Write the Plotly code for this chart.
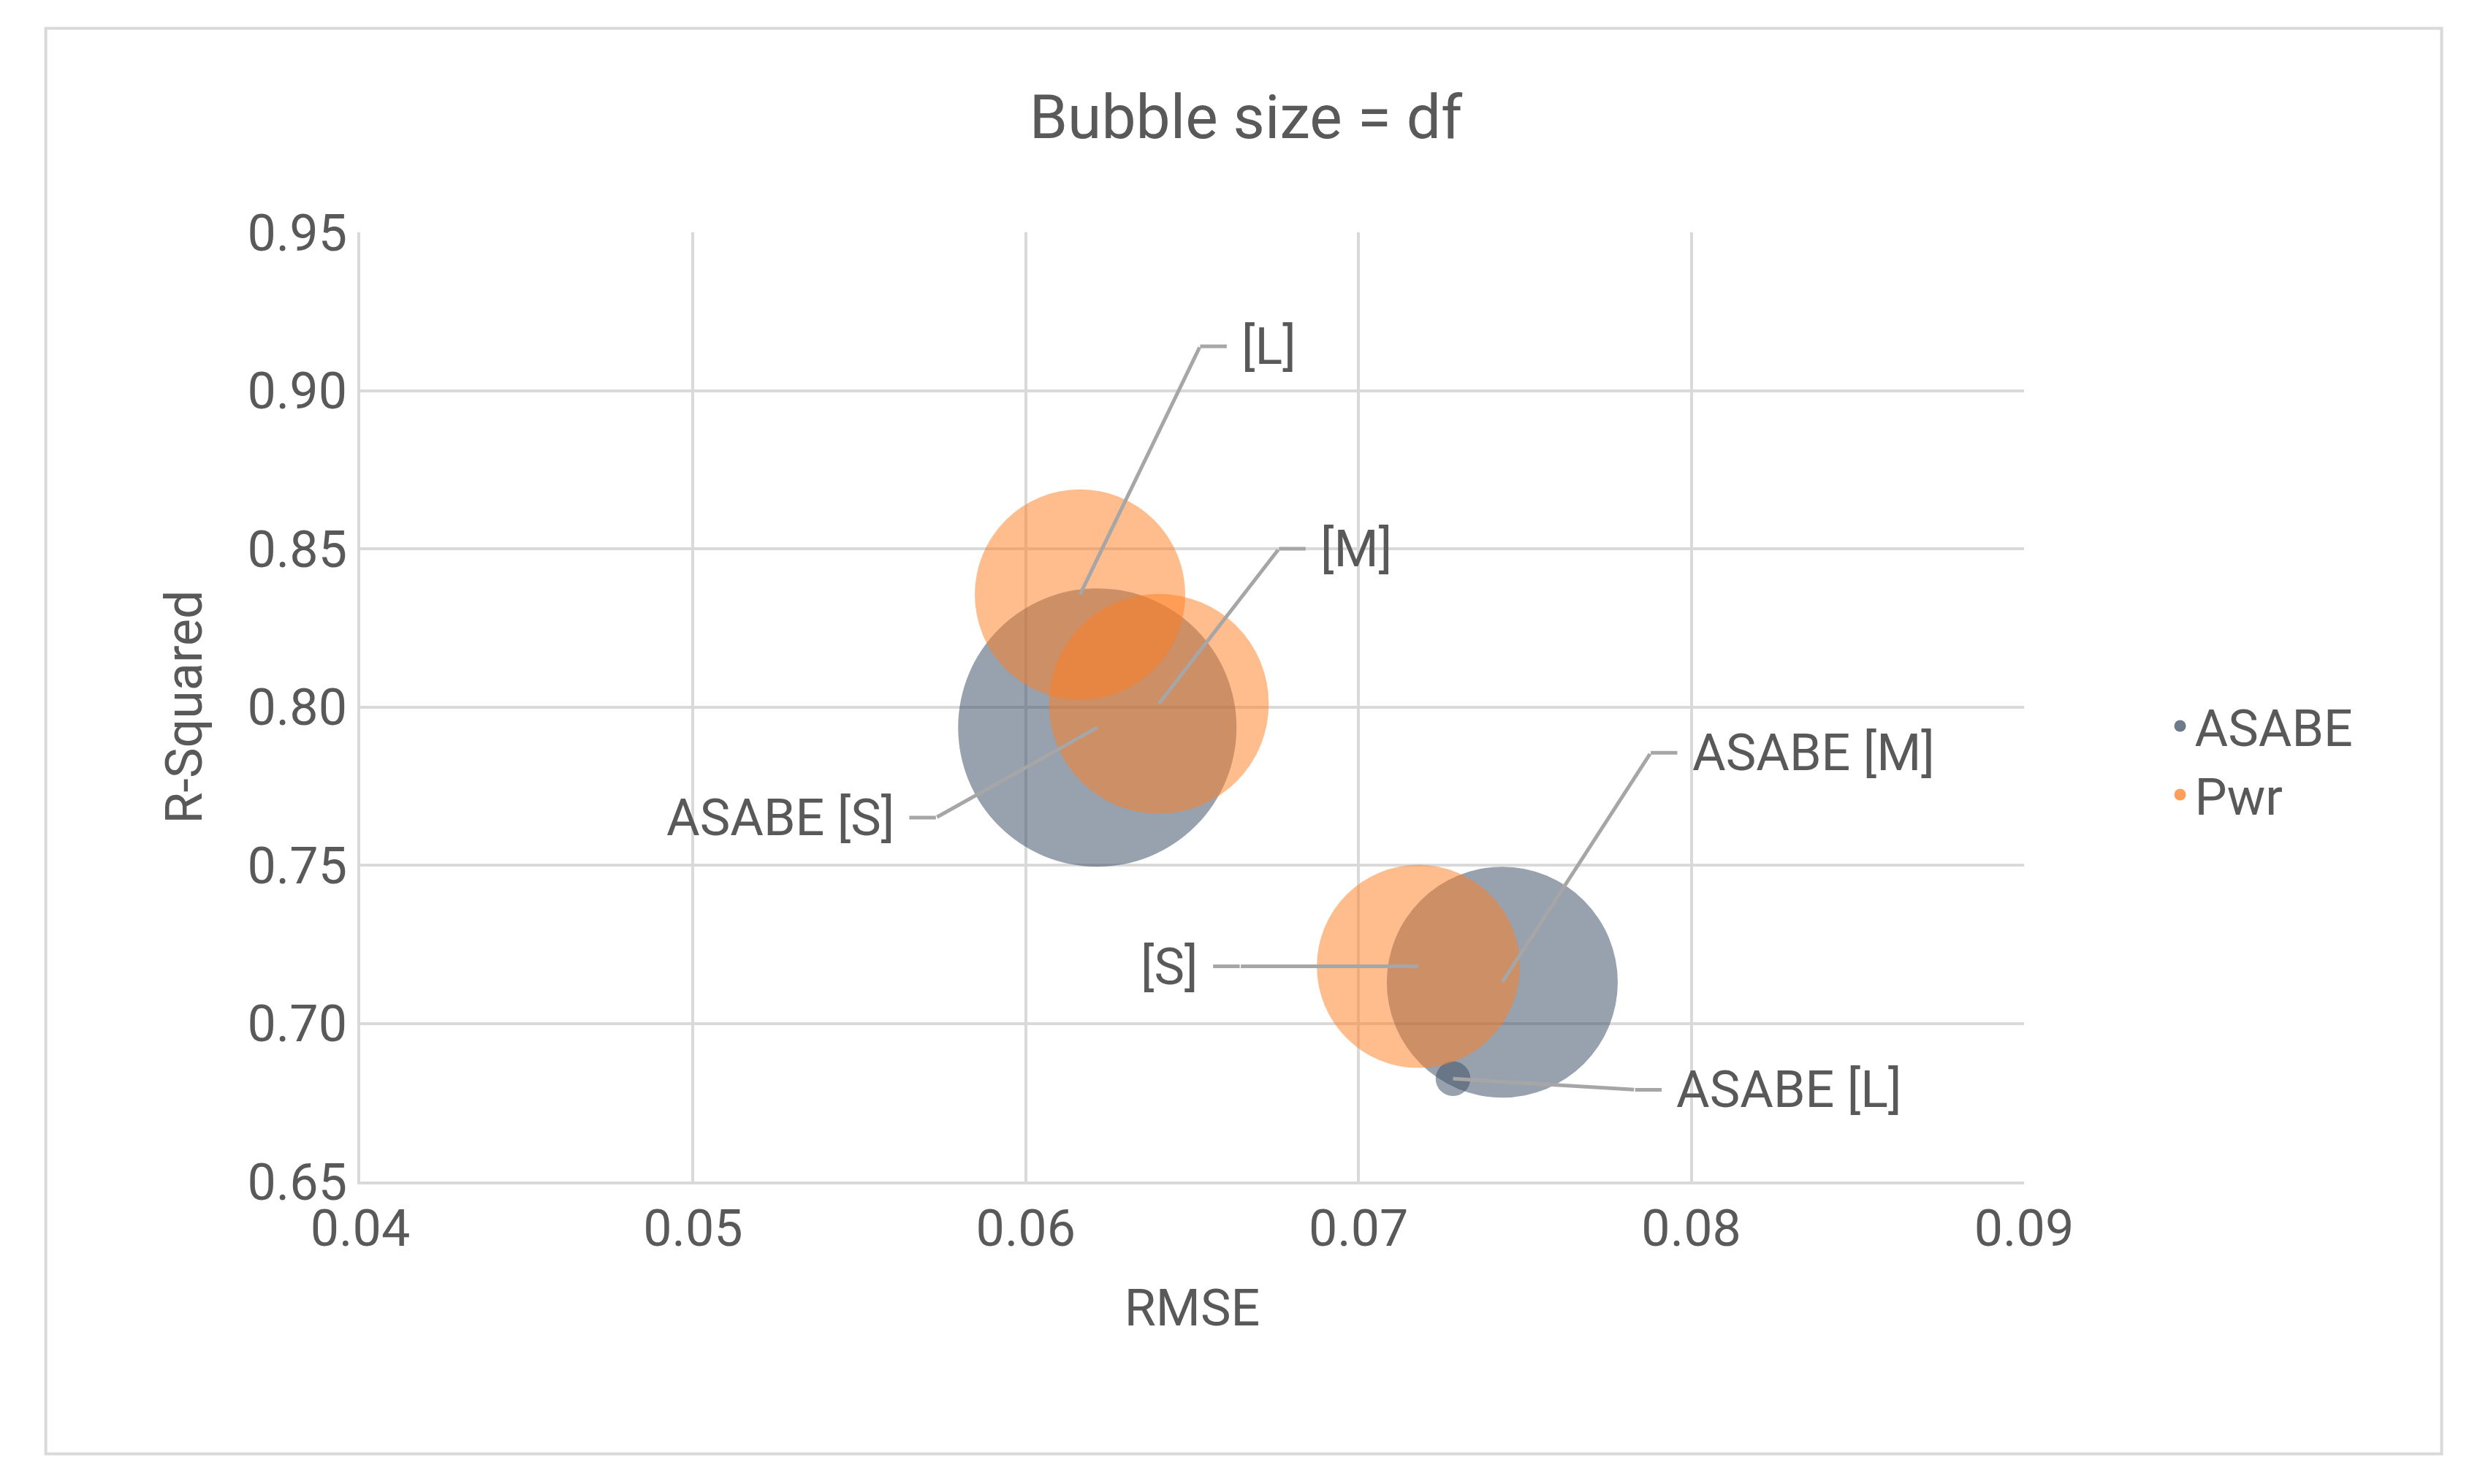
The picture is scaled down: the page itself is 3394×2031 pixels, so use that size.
import plotly.graph_objects as go

labels_asabe = ["ASABE [S]", "ASABE [M]", "ASABE [L]"]
rmse_asabe = [0.06215, 0.07432, 0.07284]
r2_asabe = [0.7935, 0.7130, 0.6825]
df_asabe = [77, 53, 1.2]

labels_pwr = ["[S]", "[M]", "[L]"]
rmse_pwr = [0.0718, 0.0640, 0.06163]
r2_pwr = [0.7180, 0.8010, 0.8355]
df_pwr = [41, 48, 44]

xticks = [0.04, 0.05, 0.06, 0.07, 0.08, 0.09]
yticks = [0.65, 0.70, 0.75, 0.80, 0.85, 0.90, 0.95]

FONT = "Liberation Sans Narrow, Roboto, Arial Narrow, sans-serif"
GRAY = "#595959"
BLUE = "rgba(62,80,104,0.76)"
ORANGE = "rgba(255,125,35,0.74)"
maxdf = max(df_asabe + df_pwr)
sizeref = 2 * maxdf / (381 ** 2)

fig = go.Figure()
fig.add_trace(go.Scatter(x=rmse_asabe, y=r2_asabe, mode="markers", name="ASABE", showlegend=False,
    marker=dict(size=df_asabe, sizemode="area", sizeref=sizeref, sizemin=4,
                color=BLUE, line=dict(width=0))))
fig.add_trace(go.Scatter(x=rmse_pwr, y=r2_pwr, mode="markers", name="Pwr", showlegend=False,
    marker=dict(size=df_pwr, sizemode="area", sizeref=sizeref, sizemin=4,
                color=ORANGE, line=dict(width=0))))
# legend entries
fig.add_trace(go.Scatter(x=[None], y=[None], mode="markers", name="ASABE",
                         marker=dict(size=40, color=BLUE)))
fig.add_trace(go.Scatter(x=[None], y=[None], mode="markers", name="Pwr",
                         marker=dict(size=40, color=ORANGE)))

label_layout = {
    "ASABE [S]": (0.0573, 0.765, 0.05607, 0.7635, "right"),
    "ASABE [M]": (0.07878, 0.7855, 0.08007, 0.7845, "left"),
    "ASABE [L]": (0.07831, 0.679, 0.07907, 0.678, "left"),
    "[S]": (0.06643, 0.718, 0.06595, 0.7175, "right"),
    "[M]": (0.06761, 0.850, 0.06894, 0.849, "left"),
    "[L]": (0.06524, 0.914, 0.06657, 0.9125, "left"),
}
pts = list(zip(labels_asabe, rmse_asabe, r2_asabe)) + list(zip(labels_pwr, rmse_pwr, r2_pwr))
anns = []
for lab, px, py in pts:
    lx, ly, tx, ty, anc = label_layout[lab]
    anns.append(dict(x=px, y=py, ax=lx, ay=ly, axref="x", ayref="y", xref="x", yref="y",
                     text="", showarrow=True, arrowhead=0, arrowwidth=5, arrowcolor="#A6A6A6"))
    hx = lx + (0.0008 if anc == "left" else -0.0008)
    fig.add_shape(type="line", x0=lx, y0=ly, x1=hx, y1=ly, xref="x", yref="y",
                  line=dict(color="#A6A6A6", width=5))
    anns.append(dict(x=hx + (0.0004 if anc == "left" else -0.0004), y=ly, xref="x", yref="y", text=lab,
                     showarrow=False, xanchor=anc, yanchor="middle",
                     font=dict(family=FONT, size=70, color=GRAY)))

fig.add_shape(type="rect", xref="paper", yref="paper", x0=-0.189, x1=1.251, y0=-0.287, y1=1.215,
              line=dict(color="#D9D9D9", width=4), layer="below")

fig.update_layout(
    width=3394, height=2031, paper_bgcolor="white", plot_bgcolor="white",
    margin=dict(l=485, r=632, t=310, b=422),
    title=dict(text="Bubble size = df", x=0.5, xanchor="center", y=0.94, yref="container",
               font=dict(family=FONT, size=84, color=GRAY)),
    font=dict(family=FONT, size=70, color=GRAY),
    annotations=anns,
    legend=dict(x=1.085, y=0.52, xanchor="left", yanchor="top", font=dict(size=70, color=GRAY),
                tracegroupgap=30),
    showlegend=True,
)
fig.update_xaxes(range=[0.04, 0.09], tickvals=xticks, ticktext=[f"{v:.2f}" for v in xticks],
                 showgrid=True, gridcolor="#D9D9D9", gridwidth=4, zeroline=False,
                 showline=True, linecolor="#D9D9D9", linewidth=4,
                 title=dict(text="RMSE", font=dict(size=70, color=GRAY), standoff=45),
                 ticks="", tickfont=dict(size=70, color=GRAY))
fig.update_yaxes(range=[0.65, 0.95], tickvals=yticks, ticktext=[f"{v:.2f}" for v in yticks],
                 showgrid=True, gridcolor="#D9D9D9", gridwidth=4, zeroline=False,
                 showline=True, linecolor="#D9D9D9", linewidth=4,
                 title=dict(text="R-Squared", font=dict(size=70, color=GRAY), standoff=40),
                 ticks="", tickfont=dict(size=70, color=GRAY))
fig.write_html("out.html")
